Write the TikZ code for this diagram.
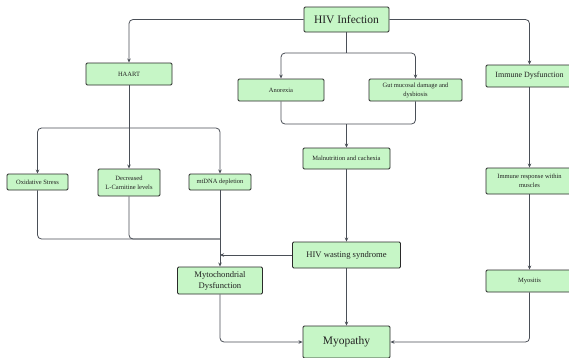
\documentclass[tikz,border=0pt]{standalone}
\usepackage{fontspec}
\setmainfont{Liberation Serif}
\usetikzlibrary{arrows.meta}
\definecolor{boxfill}{HTML}{C6F6C6}
\definecolor{boxline}{HTML}{2A2A2A}
\definecolor{conn}{HTML}{4A4F57}
\definecolor{txt}{HTML}{222222}
\begin{document}
\begin{tikzpicture}[x=1pt,y=-1pt,
  box/.style={draw=boxline,line width=0.9pt,fill=boxfill,rounded corners=1.2pt,
    inner sep=0pt,align=center,text=txt,font=\fontsize{6.5}{9}\selectfont},
  big/.style={box,font=\fontsize{11.5}{13}\selectfont},
  mid/.style={box,font=\fontsize{8.6}{11}\selectfont},
  conn/.style={draw=conn,line width=0.8pt,rounded corners=4pt},
  arr/.style={conn,-{Stealth[length=4pt,width=3.5pt]}}]
\useasboundingbox (0,0) rectangle (569,357);
\clip (0,0) rectangle (569,357);
\fill[white] (0,0) rectangle (569,357);
% nodes
\node[big,minimum width=85pt,minimum height=25pt] (hiv) at (346.5,19.5) {HIV Infection};
\node[box,minimum width=86pt,minimum height=22pt] (haart) at (129,74) {HAART};
\node[box,minimum width=86pt,minimum height=22pt] (ano) at (281,90) {Anorexia};
\node[box,minimum width=93pt,minimum height=22pt] (gut) at (415.5,90) {Gut mucosal damage and\\dysbiosis};
\node[box,font=\fontsize{8}{10}\selectfont,minimum width=87pt,minimum height=22pt] (imd) at (529.5,76) {Immune Dysfunction};
\node[box,minimum width=87pt,minimum height=21pt] (mal) at (346.5,158.5) {Malnutrition and cachexia};
\node[box,minimum width=87pt,minimum height=26pt] (imr) at (529.5,181) {Immune response within\\muscles};
\node[box,minimum width=61pt,minimum height=16pt] (ox) at (37.5,182) {Oxidative Stress};
\node[box,minimum width=62pt,minimum height=27pt] (lc) at (129,182.5) {Decreased\\L-Carnitine levels};
\node[box,minimum width=62pt,minimum height=16pt] (mt) at (220,182) {mtDNA depletion};
\node[mid,minimum width=85pt,minimum height=27pt] (mito) at (220,280.5) {Mytochondrial\\Dysfunction};
\node[mid,minimum width=108pt,minimum height=26pt] (hws) at (346.5,255) {HIV wasting syndrome};
\node[box,minimum width=87pt,minimum height=22pt] (myo) at (529.5,281) {Myositis};
\node[big,minimum width=87pt,minimum height=32pt] (myp) at (346.5,342) {Myopathy};
% junctions
\coordinate (hj) at (129,128);
\coordinate (tj) at (346.5,53);
\coordinate (aj) at (346.5,124);
\coordinate (mj) at (220,239);
\coordinate (wj) at (220,255);
% connectors
\draw[arr] (hiv.west) -| (haart.north);
\draw[arr] (hiv.east) -| (imd.north);
\draw[conn] (hiv.south) -- (tj);
\draw[arr] (tj) -| (ano.north);
\draw[arr] (tj) -| (gut.north);
\draw[conn] (ano.south) |- (aj);
\draw[conn] (gut.south) |- (aj);
\draw[arr] (aj) -- (mal.north);
\draw[conn] (haart.south) -- (hj);
\draw[arr] (hj) -| (ox.north);
\draw[arr] (hj) -- (lc.north);
\draw[arr] (hj) -| (mt.north);
\draw[conn] (ox.south) |- (mj);
\draw[conn] (lc.south) |- (mj);
\draw[arr] (mt.south) -- (mito.north);
\draw[arr] (hws.west) -- (wj);
\draw[arr] (mal.south) -- (hws.north);
\draw[arr] (hws.south) -- (myp.north);
\draw[arr] (mito.south) |- (myp.west);
\draw[arr] (myo.south) |- (myp.east);
\draw[arr] (imd.south) -- (imr.north);
\draw[arr] (imr.south) -- (myo.north);
\end{tikzpicture}
\end{document}
